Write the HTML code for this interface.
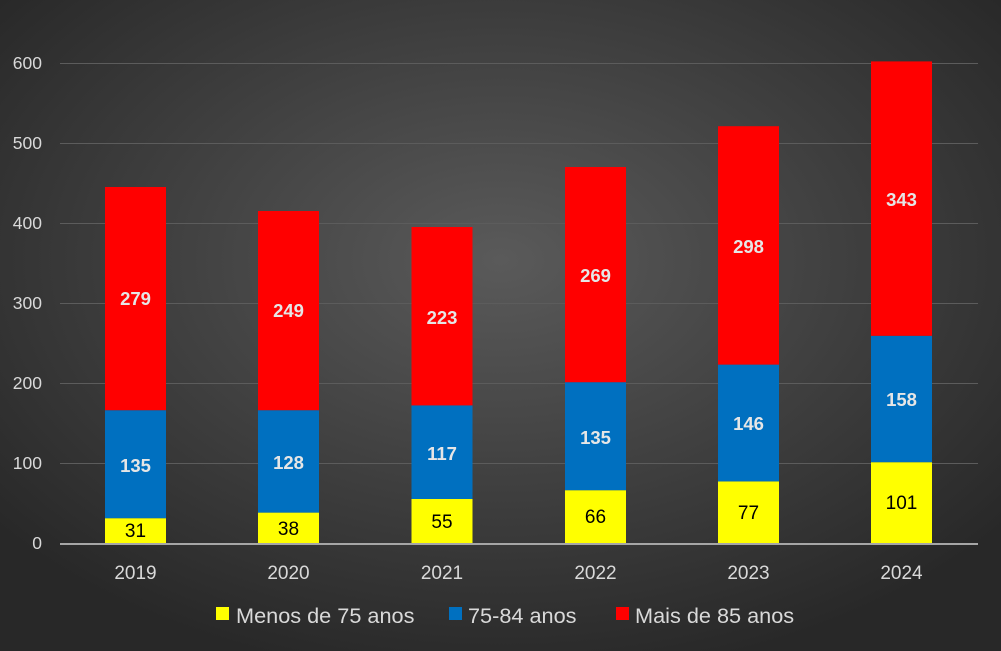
<!DOCTYPE html><html><head><style>body{margin:0;background:#333}svg{display:block}</style></head><body>
<svg width="1001" height="651" xmlns="http://www.w3.org/2000/svg" font-family="Liberation Sans, sans-serif">
<defs><radialGradient id="g" cx="50%" cy="40%" r="65%"><stop offset="0" stop-color="#5a5a5a"/><stop offset="1" stop-color="#282828"/></radialGradient></defs>
<rect width="1001" height="651" fill="url(#g)"/>
<g stroke="#5c5c5c" stroke-width="1">
<line x1="60" x2="978" y1="63.5" y2="63.5"/><line x1="60" x2="978" y1="143.5" y2="143.5"/><line x1="60" x2="978" y1="223.5" y2="223.5"/><line x1="60" x2="978" y1="303.5" y2="303.5"/><line x1="60" x2="978" y1="383.5" y2="383.5"/><line x1="60" x2="978" y1="463.5" y2="463.5"/></g>
<g fill="#d9d9d9" font-size="17.5" text-anchor="end">
<text x="42" y="69">600</text><text x="42" y="149">500</text><text x="42" y="229">400</text><text x="42" y="309">300</text><text x="42" y="389">200</text><text x="42" y="469">100</text><text x="42" y="549">0</text></g>
<g>
<rect x="105" y="518.2" width="61" height="24.8" fill="#ffff00"/><rect x="105" y="410.2" width="61" height="108" fill="#0070c0"/><rect x="105" y="187" width="61" height="223.2" fill="#ff0000"/>
<rect x="258" y="512.6" width="61" height="30.4" fill="#ffff00"/><rect x="258" y="410.2" width="61" height="102.4" fill="#0070c0"/><rect x="258" y="211" width="61" height="199.2" fill="#ff0000"/>
<rect x="411.5" y="499" width="61" height="44" fill="#ffff00"/><rect x="411.5" y="405.4" width="61" height="93.6" fill="#0070c0"/><rect x="411.5" y="227" width="61" height="178.4" fill="#ff0000"/>
<rect x="565" y="490.2" width="61" height="52.8" fill="#ffff00"/><rect x="565" y="382.2" width="61" height="108" fill="#0070c0"/><rect x="565" y="167" width="61" height="215.2" fill="#ff0000"/>
<rect x="718" y="481.4" width="61" height="61.6" fill="#ffff00"/><rect x="718" y="364.6" width="61" height="116.8" fill="#0070c0"/><rect x="718" y="126.2" width="61" height="238.4" fill="#ff0000"/>
<rect x="871" y="462.2" width="61" height="80.8" fill="#ffff00"/><rect x="871" y="335.8" width="61" height="126.4" fill="#0070c0"/><rect x="871" y="61.4" width="61" height="274.4" fill="#ff0000"/>
</g>
<line x1="60" x2="978" y1="544" y2="544" stroke="#a6a6a6" stroke-width="2"/>
<g font-size="19" text-anchor="middle" fill="#000">
<text x="135.5" y="537">31</text><text x="288.5" y="535">38</text><text x="442" y="528">55</text><text x="595.5" y="523">66</text><text x="748.5" y="519">77</text><text x="901.5" y="509">101</text></g>
<g font-size="18.5" font-weight="bold" text-anchor="middle" fill="#e6e6e6">
<text x="135.5" y="472">135</text><text x="288.5" y="469">128</text><text x="442" y="460">117</text><text x="595.5" y="444">135</text><text x="748.5" y="430">146</text><text x="901.5" y="406">158</text>
<text x="135.5" y="305">279</text><text x="288.5" y="317">249</text><text x="442" y="324">223</text><text x="595.5" y="282">269</text><text x="748.5" y="253">298</text><text x="901.5" y="206">343</text></g>
<g font-size="19" text-anchor="middle" fill="#d9d9d9">
<text x="135.5" y="579">2019</text><text x="288.5" y="579">2020</text><text x="442" y="579">2021</text><text x="595.5" y="579">2022</text><text x="748.5" y="579">2023</text><text x="901.5" y="579">2024</text></g>
<g font-size="21.7" fill="#d9d9d9">
<rect x="216" y="607" width="13" height="13" fill="#ffff00"/><text x="236" y="623">Menos de 75 anos</text>
<rect x="449" y="607" width="13" height="13" fill="#0070c0"/><text x="468" y="623">75-84 anos</text>
<rect x="616" y="607" width="13" height="13" fill="#ff0000"/><text x="635" y="623">Mais de 85 anos</text></g>
</svg></body></html>
